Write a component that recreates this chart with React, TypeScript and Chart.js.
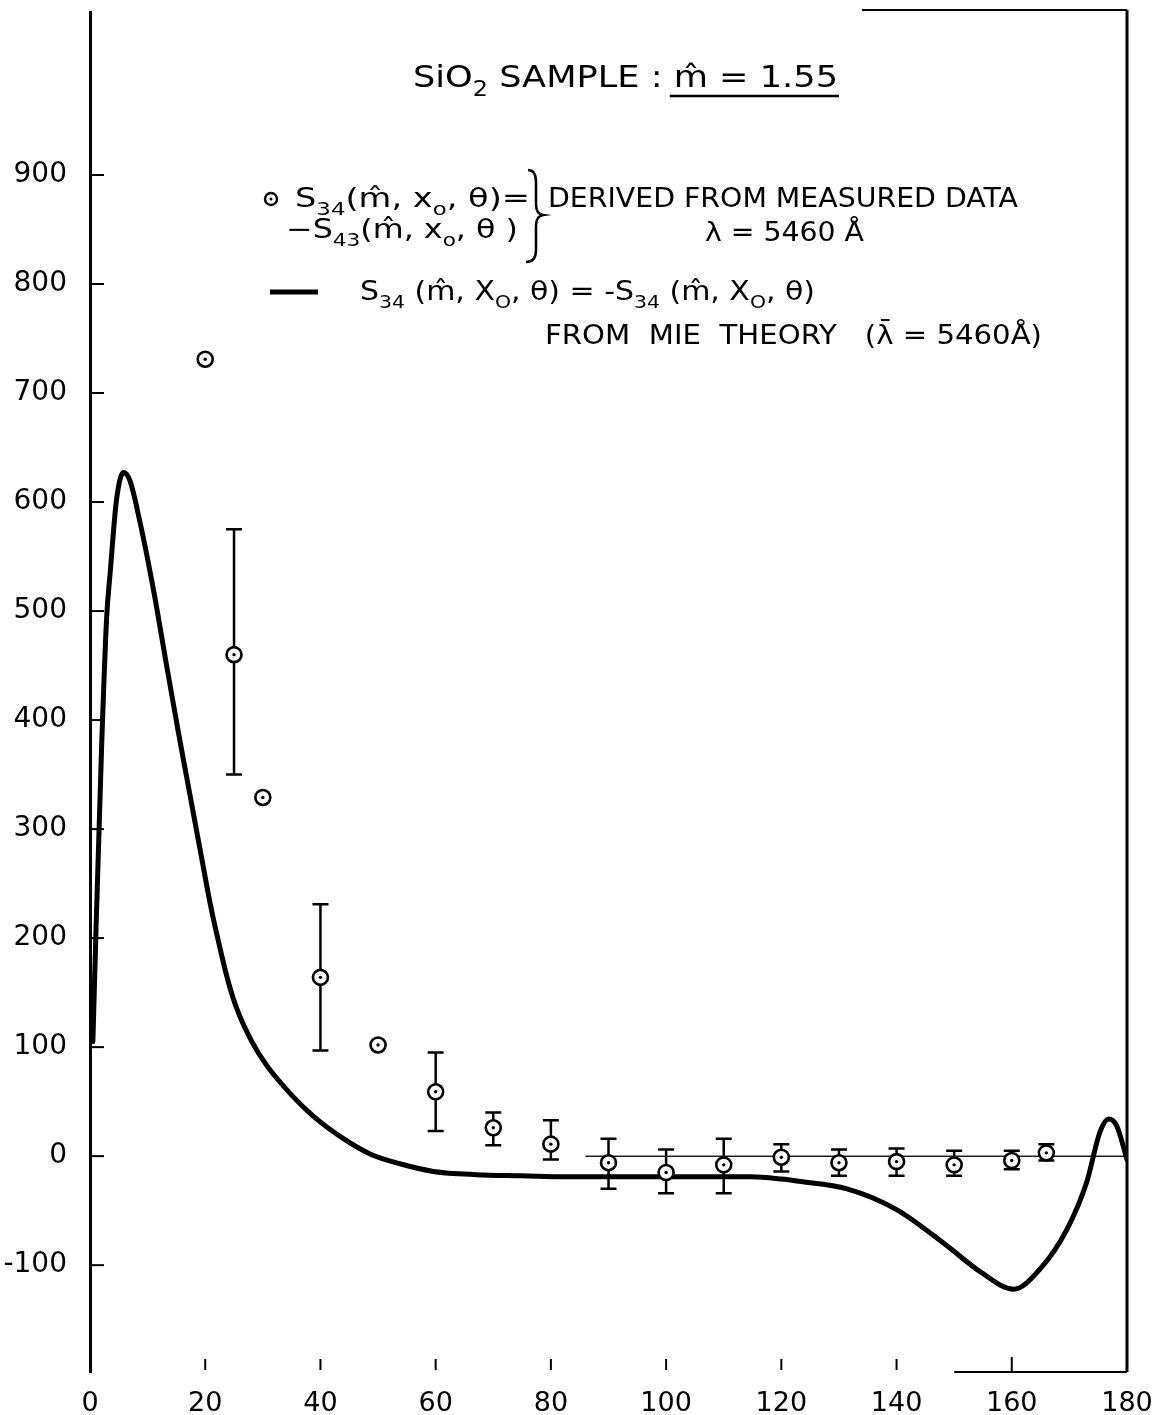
import React, { useEffect, useRef } from "react";
import { Chart, registerables } from "chart.js";

Chart.register(...registerables);

// ---- data ----
const xTickValues = [0, 20, 40, 60, 80, 100, 120, 140, 160, 180];
const yTickValues = [-100, 0, 100, 200, 300, 400, 500, 600, 700, 800, 900];

const measuredTheta = [20, 25, 30, 40, 50, 60, 70, 80, 90, 100, 110, 120, 130, 140, 150, 160, 166];
const measuredS34 = [731, 460, 329, 164, 102, 59, 26, 11, -6, -15, -8, -1, -6, -5, -8, -4, 3];
const errHigh = [null, 575, null, 231, null, 95, 40, 33, 16, 6, 16, 11, 6, 7, 5, 5, 11];
const errLow = [null, 350, null, 97, null, 23, 10, -3, -30, -34, -34, -14, -18, -18, -18, -12, -4];

const mieTheta = [0.5, 1, 2, 2.9, 3.5, 4.6, 5.8, 6.9, 8.7, 11, 13.3, 15.3, 17.4, 19.5, 21, 22.6, 24, 25.5, 28, 30.7, 35, 38.7, 44, 48.6, 53.8, 59.6, 67.1, 75, 82.8, 100, 114.6, 120, 123, 131.4, 140, 148.7, 154.5, 160.3, 165, 169.6, 173, 175.3, 176.8, 178.2, 180];
const mieS34 = [105, 200, 373, 495, 535, 602, 627, 620, 581, 520, 450, 390, 330, 270, 228, 190, 160, 135, 106, 83, 56, 37, 16, 2, -7, -14, -17, -18, -19, -19, -19, -21, -23, -30, -49, -82, -106, -122, -103, -67, -24, 22, 34, 28, -3];

const zeroLineTheta = [86, 180];
const zeroLineValue = [0, 0];

const FONT = "DejaVu Sans";

type Part = { t: string; sub?: boolean };

function drawRun(ctx: CanvasRenderingContext2D, parts: Part[], x0: number, x1: number, base: number, size: number, underlineFrom = -1) {
  const subSize = size * 0.68;
  const widths = parts.map((p) => {
    ctx.font = `${p.sub ? subSize : size}px ${FONT}`;
    return ctx.measureText(p.t).width;
  });
  const total = widths.reduce((a, b) => a + b, 0);
  const sx = (x1 - x0) / total;
  ctx.save();
  ctx.translate(x0, base);
  ctx.scale(sx, 1);
  ctx.fillStyle = "#000";
  ctx.textBaseline = "alphabetic";
  ctx.textAlign = "left";
  let x = 0;
  let ulStart = 0;
  parts.forEach((p, i) => {
    if (i === underlineFrom) ulStart = x;
    ctx.font = `${p.sub ? subSize : size}px ${FONT}`;
    ctx.fillText(p.t, x, p.sub ? size * 0.3 : 0);
    x += widths[i];
  });
  ctx.restore();
  if (underlineFrom >= 0) {
    ctx.save();
    ctx.strokeStyle = "#000";
    ctx.lineWidth = 2.5;
    ctx.beginPath();
    ctx.moveTo(x0 + ulStart * sx - 4, base + 9);
    ctx.lineTo(x1 + 1, base + 9);
    ctx.stroke();
    ctx.restore();
  }
}

function textRun(ctx: CanvasRenderingContext2D, text: string, x0: number, x1: number, base: number, size: number) {
  drawRun(ctx, [{ t: text }], x0, x1, base, size);
}

const decorPlugin = {
  id: "decor",
  beforeDatasetsDraw(chart: any) {
    const ctx: CanvasRenderingContext2D = chart.ctx;
    const xs = chart.scales.x;
    const ys = chart.scales.y;
    ctx.save();
    ctx.strokeStyle = "#000";
    ctx.lineWidth = 2.5;
    measuredTheta.forEach((t, i) => {
      const hi = errHigh[i];
      const lo = errLow[i];
      if (hi === null || lo === null) return;
      const px = xs.getPixelForValue(t);
      const yh = ys.getPixelForValue(hi);
      const yl = ys.getPixelForValue(lo);
      ctx.beginPath();
      ctx.moveTo(px, yh);
      ctx.lineTo(px, yl);
      ctx.moveTo(px - 8, yh);
      ctx.lineTo(px + 8, yh);
      ctx.moveTo(px - 8, yl);
      ctx.lineTo(px + 8, yl);
      ctx.stroke();
    });
    ctx.restore();
  },
  afterDatasetsDraw(chart: any) {
    const ctx: CanvasRenderingContext2D = chart.ctx;
    const xs = chart.scales.x;
    const ys = chart.scales.y;
    ctx.save();
    ctx.fillStyle = "#000";
    measuredTheta.forEach((t, i) => {
      ctx.beginPath();
      ctx.arc(xs.getPixelForValue(t), ys.getPixelForValue(measuredS34[i]), 1.7, 0, Math.PI * 2);
      ctx.fill();
    });
    ctx.restore();
  },
  afterDraw(chart: any) {
    const ctx: CanvasRenderingContext2D = chart.ctx;
    const xs = chart.scales.x;
    const ys = chart.scales.y;
    const a = chart.chartArea;
    ctx.save();
    ctx.strokeStyle = "#000";
    ctx.fillStyle = "#000";
    // y tick marks (inside)
    ctx.lineWidth = 2;
    yTickValues.forEach((v) => {
      const py = ys.getPixelForValue(v);
      ctx.beginPath();
      ctx.moveTo(a.left, py);
      ctx.lineTo(a.left + 14, py);
      ctx.stroke();
    });
    // x tick marks
    xTickValues.forEach((v) => {
      if (v === 0 || v === 180) return;
      const px = xs.getPixelForValue(v);
      ctx.beginPath();
      if (v === 160) {
        ctx.moveTo(px, a.bottom - 15);
        ctx.lineTo(px, a.bottom);
      } else {
        ctx.moveTo(px, a.bottom - 13);
        ctx.lineTo(px, a.bottom - 2);
      }
      ctx.stroke();
    });
    // bottom partial axis
    ctx.lineWidth = 2;
    ctx.beginPath();
    ctx.moveTo(xs.getPixelForValue(150), a.bottom);
    ctx.lineTo(a.right, a.bottom);
    ctx.stroke();
    // right border
    ctx.lineWidth = 3;
    ctx.beginPath();
    ctx.moveTo(a.right, a.top - 2);
    ctx.lineTo(a.right, a.bottom);
    ctx.stroke();
    // top partial border
    ctx.lineWidth = 2;
    ctx.beginPath();
    ctx.moveTo(xs.getPixelForValue(134), a.top - 2);
    ctx.lineTo(a.right, a.top - 2);
    ctx.stroke();

    // title
    drawRun(
      ctx,
      [{ t: "SiO" }, { t: "2", sub: true }, { t: " SAMPLE : " }, { t: "m\u0302 = 1.55" }],
      413, 838, 87, 30, 3
    );

    // legend: measured
    ctx.lineWidth = 2.4;
    ctx.beginPath();
    ctx.arc(271, 199, 6, 0, Math.PI * 2);
    ctx.stroke();
    ctx.beginPath();
    ctx.arc(271, 199, 1.5, 0, Math.PI * 2);
    ctx.fill();
    drawRun(ctx, [{ t: "S" }, { t: "34", sub: true }, { t: "(m\u0302, x" }, { t: "o", sub: true }, { t: ", \u03B8)=" }], 295, 530, 207, 26);
    drawRun(ctx, [{ t: "\u2212S" }, { t: "43", sub: true }, { t: "(m\u0302, x" }, { t: "o", sub: true }, { t: ", \u03B8 )" }], 286, 518, 238, 26);
    // brace
    ctx.lineWidth = 2.5;
    ctx.beginPath();
    ctx.moveTo(528, 170);
    ctx.quadraticCurveTo(536, 170, 536, 182);
    ctx.lineTo(536, 204);
    ctx.quadraticCurveTo(536, 214, 543, 215);
    ctx.quadraticCurveTo(536, 216, 536, 226);
    ctx.lineTo(536, 250);
    ctx.quadraticCurveTo(536, 262, 526, 262);
    ctx.stroke();
    textRun(ctx, "DERIVED FROM MEASURED DATA", 548, 1018, 207, 26);
    textRun(ctx, "\u03BB = 5460 \u00C5", 705, 864, 241, 26);

    // legend: theory
    ctx.lineWidth = 5;
    ctx.beginPath();
    ctx.moveTo(270, 292);
    ctx.lineTo(318, 292);
    ctx.stroke();
    drawRun(
      ctx,
      [{ t: "S" }, { t: "34", sub: true }, { t: " (m\u0302, X" }, { t: "O", sub: true }, { t: ", \u03B8) = -S" }, { t: "34", sub: true }, { t: " (m\u0302, X" }, { t: "O", sub: true }, { t: ", \u03B8)" }],
      360, 815, 300, 26
    );
    textRun(ctx, "FROM  MIE  THEORY   (\u03BB\u0304 = 5460\u00C5)", 545, 1042, 344, 26);
    ctx.restore();
  },
};

export default function App() {
  const ref = useRef<HTMLCanvasElement | null>(null);
  useEffect(() => {
    document.body.style.margin = "0";
    if (!ref.current) return;
    const chart = new Chart(ref.current, {
      type: "scatter",
      data: {
        datasets: [
          {
            label: "measured",
            data: measuredTheta.map((t, i) => ({ x: t, y: measuredS34[i] })),
            pointRadius: 7.5,
            pointBorderWidth: 2.6,
            pointBackgroundColor: "#fff",
            pointBorderColor: "#000",
            showLine: false,
          },
          {
            label: "mie",
            data: mieTheta.map((t, i) => ({ x: t, y: mieS34[i] })),
            showLine: true,
            borderColor: "#000",
            borderWidth: 5,
            pointRadius: 0,
            cubicInterpolationMode: "monotone",
            borderCapStyle: "round",
            borderJoinStyle: "round",
          } as any,
          {
            label: "zero",
            data: zeroLineTheta.map((t, i) => ({ x: t, y: zeroLineValue[i] })),
            showLine: true,
            borderColor: "#222",
            borderWidth: 1.5,
            pointRadius: 0,
          },
        ],
      },
      options: {
        animation: false,
        responsive: true,
        maintainAspectRatio: false,
        layout: { padding: { left: 0, top: 12, right: 27, bottom: 0 } },
        plugins: { legend: { display: false }, tooltip: { enabled: false }, title: { display: false } },
        scales: {
          x: {
            type: "linear",
            min: 0,
            max: 180,
            afterBuildTicks: (s: any) => {
              s.ticks = xTickValues.map((v) => ({ value: v }));
            },
            afterFit: (s: any) => {
              s.height = 43;
              s.paddingLeft = 0;
              s.paddingRight = 0;
            },
            ticks: { font: { size: 27, family: FONT }, color: "#000", padding: 8, maxRotation: 0, autoSkip: false },
            grid: { display: false },
            border: { display: false },
          },
          y: {
            type: "linear",
            min: -198,
            max: 1049.5,
            afterBuildTicks: (s: any) => {
              s.ticks = yTickValues.map((v) => ({ value: v }));
            },
            afterFit: (s: any) => {
              s.width = 90;
              s.paddingTop = 0;
              s.paddingBottom = 0;
            },
            ticks: { font: { size: 28, family: FONT }, color: "#000", padding: 15 },
            grid: { display: false },
            border: { display: true, color: "#000", width: 3 },
          },
        },
      },
      plugins: [decorPlugin],
    });
    return () => chart.destroy();
  }, []);
  return (
    <div style={{ position: "relative", width: "1154px", height: "1415px", background: "#fff" }}>
      <canvas ref={ref} />
    </div>
  );
}
